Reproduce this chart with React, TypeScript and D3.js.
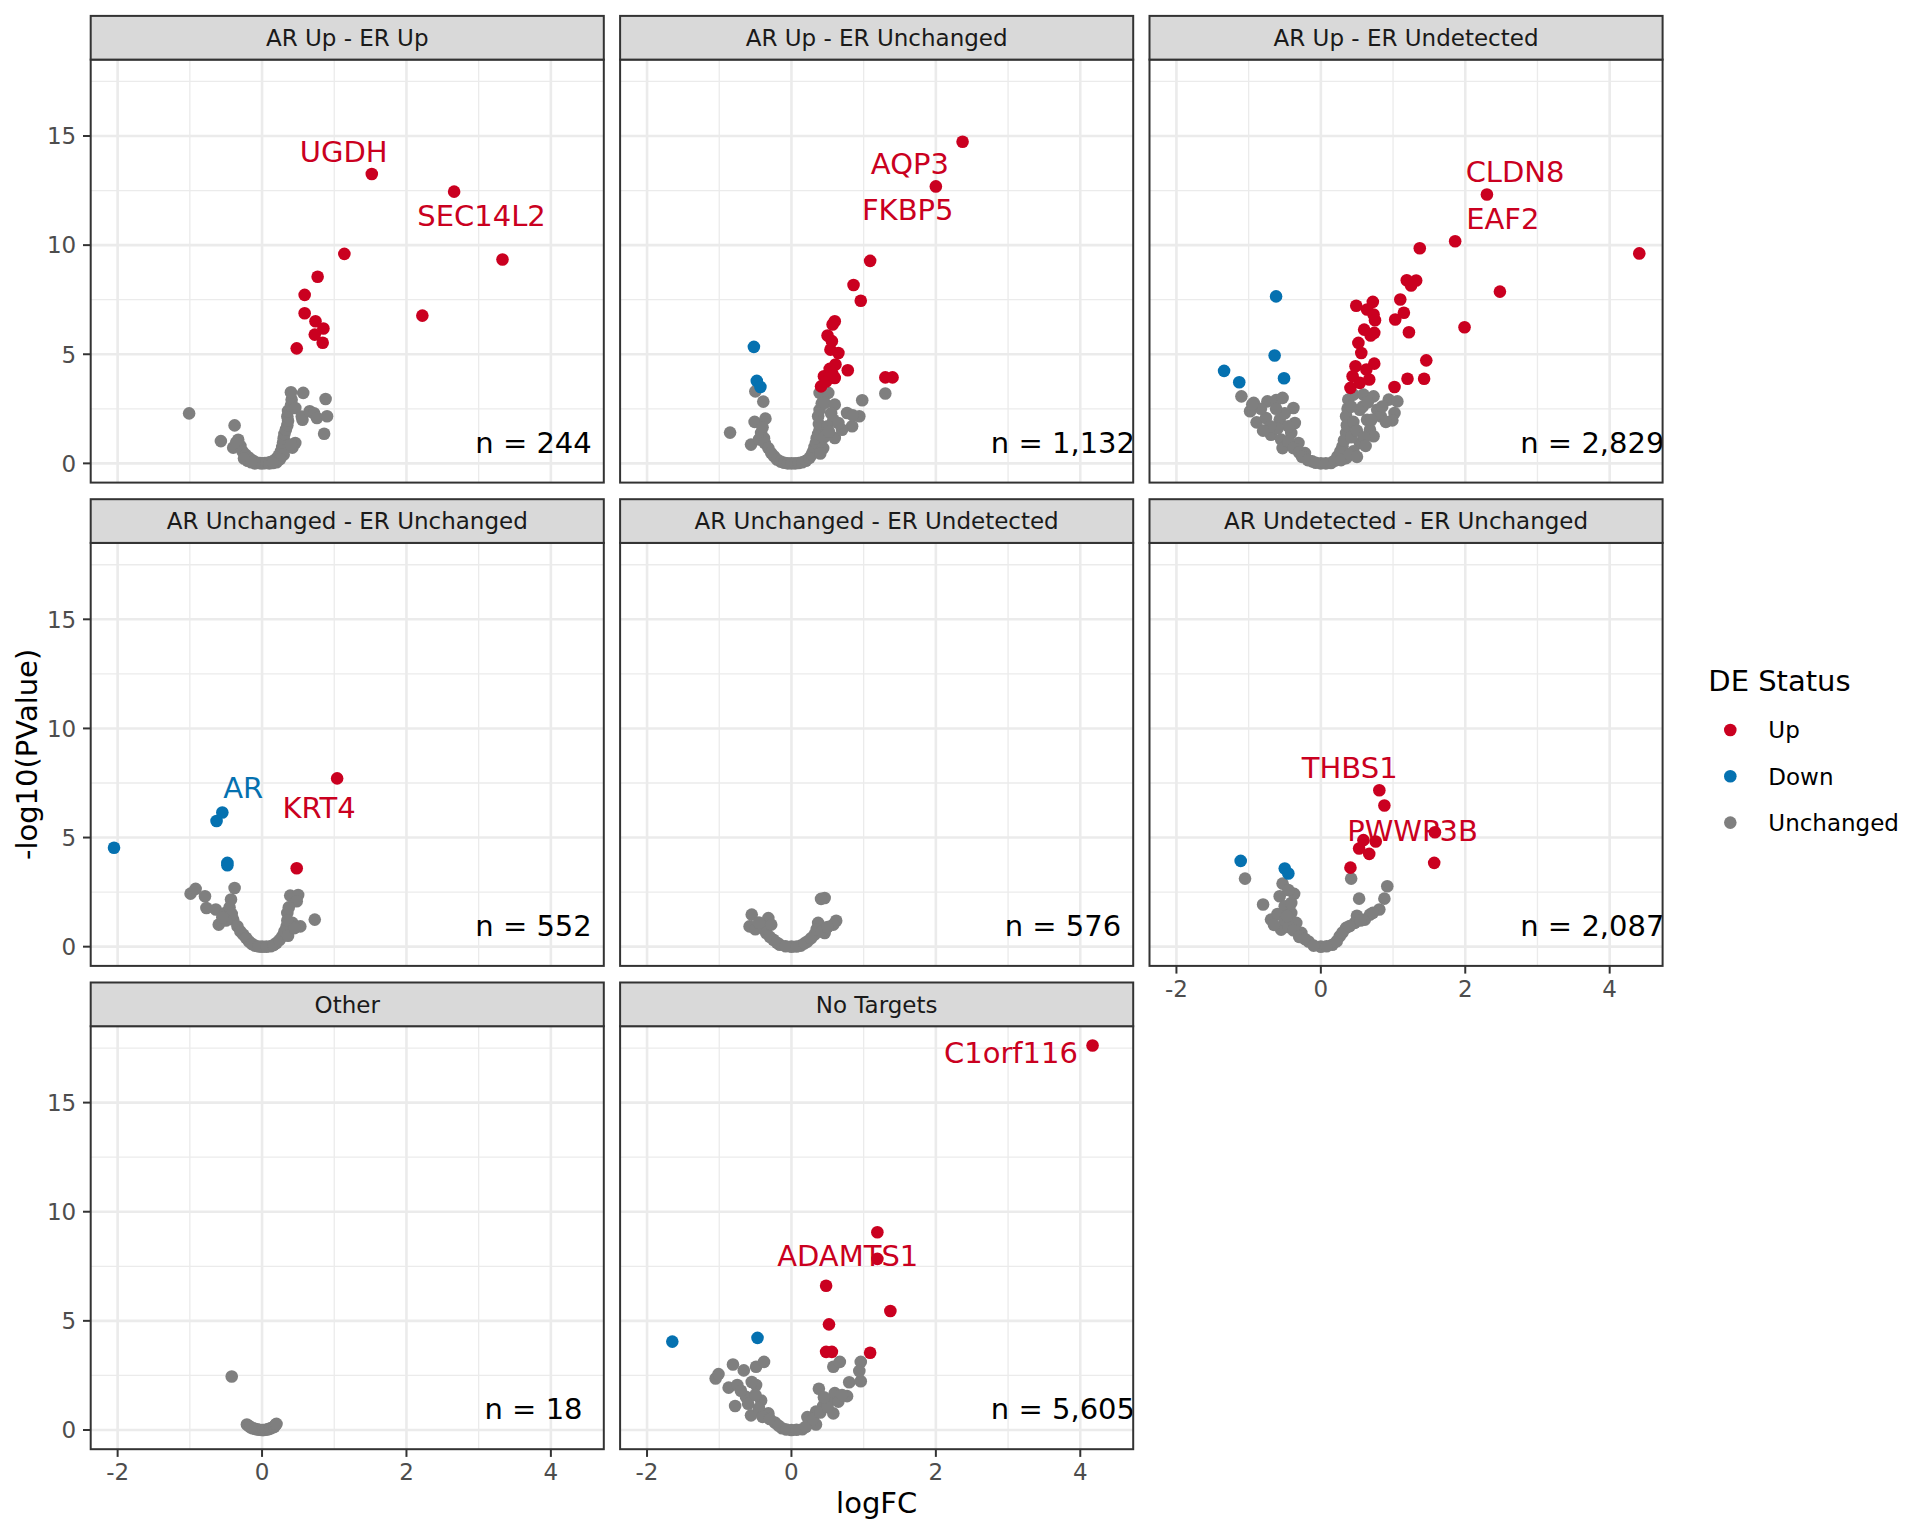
import React from "react";
import * as d3 from "d3";

type Pt = [number, number];
type Lab = [string, number, number, string];

// ---- facet metadata ----
const facetTitles = [
  "AR Up - ER Up",
  "AR Up - ER Unchanged",
  "AR Up - ER Undetected",
  "AR Unchanged - ER Unchanged",
  "AR Unchanged - ER Undetected",
  "AR Undetected - ER Unchanged",
  "Other",
  "No Targets",
];
const facetCounts = [244, 1132, 2829, 552, 576, 2087, 18, 5605];

const statusLevels = ["Up", "Down", "Unchanged"];
const statusColors = ["#CA0020", "#0571B0", "#7F7F7F"];
const xTicks = [-2, 0, 2, 4];
const yTicks = [0, 5, 10, 15];
const countLabelPos: Pt = [3.76, 0.96];

// ---- panel 1: AR Up - ER Up ----
const up1: Pt[] = [[1.52,13.26],[2.66,12.45],[1.14,9.6],[3.33,9.34],[0.77,8.55],[0.59,7.72],[0.59,6.88],[2.22,6.77],[0.74,6.51],[0.85,6.18],[0.73,5.9],[0.84,5.53],[0.48,5.27]];
const down1: Pt[] = [];
const unch1: Pt[] = [[-1.01,2.29],[-0.38,1.74],[-0.57,1.02],[-0.4,0.72],[-0.33,1.08],[-0.3,0.8],[-0.36,0.95],[-0.27,0.55],[-0.23,0.4],[-0.19,0.28],[-0.15,0.17],[-0.11,0.09],[-0.07,0.03],[-0.03,0.01],[0,0],[0.04,0.01],[0.08,0.03],[0.12,0.06],[0.16,0.12],[0.2,0.22],[0.23,0.35],[0.26,0.55],[0.28,0.75],[0.29,0.95],[0.3,1.15],[0.31,1.35],[0.33,1.55],[0.35,1.75],[0.36,1.95],[0.35,2.15],[0.36,2.4],[0.4,2.65],[0.41,2.92],[0.4,3.26],[0.46,2.54],[0.57,3.23],[0.56,2.0],[0.55,2.15],[0.66,2.39],[0.72,2.3],[0.76,2.08],[0.88,2.95],[0.9,2.16],[0.86,1.36],[0.46,0.93],[0.42,0.72],[0.4,0.85],[0.2,0.05],[-0.2,0.12],[0.1,0.0],[-0.1,0.0],[-0.25,0.22],[0.3,0.4],[0.25,0.2],[0.15,0.02],[-0.15,0.05]];
const labels1: Lab[] = [["UGDH",1.13,14.3,"Up"],["SEC14L2",3.04,11.37,"Up"]];

// ---- panel 2: AR Up - ER Unchanged ----
const up2: Pt[] = [[2.37,14.74],[2.0,12.69],[1.09,9.28],[0.86,8.17],[0.96,7.45],[0.6,6.51],[0.57,6.36],[0.5,5.86],[0.56,5.6],[0.54,5.21],[0.65,5.06],[0.61,4.53],[0.53,4.33],[0.78,4.27],[0.6,3.91],[0.45,3.99],[0.41,3.53],[1.3,3.94],[1.4,3.94],[0.56,4.14],[0.48,3.75],[0.58,4.0]];
const down2: Pt[] = [[-0.52,5.34],[-0.48,3.78],[-0.43,3.5]];
const unch2: Pt[] = [[-0.85,1.41],[-0.56,0.86],[-0.51,1.9],[-0.36,2.05],[-0.42,1.39],[-0.4,1.65],[-0.38,1.15],[-0.45,1.1],[-0.37,0.93],[-0.32,0.7],[-0.28,0.47],[-0.24,0.32],[-0.2,0.18],[-0.15,0.08],[-0.1,0.03],[-0.05,0.0],[0,0],[0.05,0.0],[0.1,0.02],[0.15,0.05],[0.2,0.12],[0.25,0.25],[0.28,0.4],[0.3,0.55],[0.32,0.75],[0.34,0.93],[0.35,1.15],[0.37,1.35],[0.39,1.54],[0.38,1.8],[0.37,2.16],[0.39,2.45],[0.42,2.75],[0.39,3.23],[0.51,3.23],[0.46,2.77],[0.6,2.69],[0.58,2.0],[0.55,2.3],[0.5,1.7],[0.45,1.2],[0.77,2.31],[0.94,2.16],[0.84,1.7],[0.98,2.89],[1.3,3.2],[0.6,1.16],[0.44,0.7],[0.7,1.54],[0.65,1.85],[0.85,2.2],[0.4,0.45],[-0.39,2.83],[-0.5,3.3],[0.52,1.45]];
const labels2: Lab[] = [["AQP3",1.64,13.74,"Up"],["FKBP5",1.61,11.65,"Up"]];

// ---- panel 3: AR Up - ER Undetected ----
const up3: Pt[] = [[2.3,12.32],[1.86,10.18],[1.37,9.86],[4.41,9.62],[1.19,8.39],[1.32,8.38],[1.25,8.15],[2.48,7.87],[1.1,7.51],[0.72,7.4],[0.49,7.22],[0.64,7.05],[0.73,6.82],[1.15,6.9],[1.03,6.59],[0.75,6.56],[1.99,6.24],[0.6,6.13],[0.74,5.98],[1.22,6.01],[0.69,5.86],[0.52,5.52],[0.56,5.06],[1.46,4.72],[0.74,4.57],[0.48,4.45],[0.63,4.3],[0.44,3.99],[1.2,3.88],[1.43,3.88],[0.67,3.84],[1.02,3.5],[0.41,3.46],[0.54,3.69]];
const down3: Pt[] = [[-0.62,7.65],[-0.64,4.94],[-1.34,4.24],[-1.13,3.72],[-0.51,3.9]];
const unch3: Pt[] = [[-1.1,3.07],[-0.93,2.77],[-0.74,2.84],[-0.62,2.9],[-0.53,3.0],[-0.38,2.54],[-0.89,1.88],[-0.76,2.08],[-0.98,2.39],[-0.57,2.0],[-0.36,1.85],[-0.69,1.31],[-0.55,1.09],[-0.41,1.39],[-0.31,0.93],[-0.22,0.47],[-0.12,0.09],[0,0],[0.14,0.02],[0.23,0.32],[0.3,0.78],[0.35,1.39],[0.35,2.16],[0.38,2.92],[0.45,3.15],[0.59,3.15],[0.73,3.07],[0.54,2.46],[0.64,2.0],[0.78,2.46],[0.94,2.92],[1.06,2.84],[1.02,2.31],[0.99,1.97],[0.83,2.16],[0.54,0.93],[0.45,0.55],[0.35,0.24],[0.68,1.54],[0.73,1.24],[-0.53,0.7],[-0.45,1.7],[-0.5,2.3],[-0.6,1.6],[-0.45,1.0],[-0.38,0.7],[-0.3,0.5],[-0.26,0.3],[-0.18,0.15],[-0.07,0.03],[0.07,0.0],[0.19,0.12],[0.27,0.55],[0.32,1.05],[0.36,1.75],[0.37,2.5],[0.42,2.6],[0.45,1.9],[0.42,1.2],[0.5,1.5],[0.6,1.2],[0.58,2.6],[0.7,2.0],[0.85,2.6],[0.62,0.8],[0.28,0.15],[0.4,0.4],[-0.62,2.5],[-0.83,2.5],[-0.7,1.7],[-0.8,1.5],[-0.95,2.7],[0.5,0.3],[0.9,1.9],[0.65,2.8]];
const labels3: Lab[] = [["CLDN8",2.69,13.36,"Up"],["EAF2",2.52,11.22,"Up"]];

// ---- panel 4: AR Unchanged - ER Unchanged ----
const up4: Pt[] = [[1.04,7.71],[0.48,3.59]];
const down4: Pt[] = [[-2.05,4.53],[-0.63,5.76],[-0.55,6.15],[-0.48,3.84],[-0.48,3.73]];
const unch4: Pt[] = [[-0.99,2.43],[-0.92,2.65],[-0.79,2.31],[-0.77,1.77],[-0.64,1.7],[-0.38,2.69],[-0.43,2.16],[-0.6,1.01],[-0.51,1.54],[-0.4,1.24],[-0.34,0.93],[-0.26,0.55],[-0.18,0.24],[-0.1,0.05],[0,0],[0.12,0.02],[0.2,0.17],[0.28,0.47],[0.34,0.93],[0.35,1.54],[0.39,2.34],[0.5,2.37],[0.48,2.08],[0.53,0.93],[0.73,1.24],[0.42,1.09],[-0.45,1.8],[-0.42,1.5],[-0.5,1.2],[-0.3,0.7],[-0.22,0.4],[-0.14,0.12],[-0.05,0.01],[0.06,0.0],[0.16,0.08],[0.24,0.3],[0.31,0.7],[0.35,1.2],[0.37,1.8],[0.36,0.5],[0.45,0.85],[-0.55,1.35]];
const labels4: Lab[] = [["AR",-0.26,7.28,"Down"],["KRT4",0.79,6.39,"Up"]];

// ---- panel 5: AR Unchanged - ER Undetected ----
const up5: Pt[] = [];
const down5: Pt[] = [];
const unch5: Pt[] = [[0.46,2.23],[0.41,2.19],[-0.55,1.47],[-0.32,1.31],[-0.58,0.93],[-0.42,0.93],[-0.35,0.63],[-0.25,0.32],[-0.16,0.09],[0,0],[0.13,0.05],[0.22,0.24],[0.32,0.55],[0.37,1.09],[0.46,0.63],[0.62,1.19],[0.58,1.01],[-0.28,1.01],[-0.5,0.8],[-0.3,0.45],[-0.2,0.18],[-0.08,0.02],[0.07,0.01],[0.18,0.15],[0.27,0.38],[0.35,0.8],[0.42,0.7],[-0.45,1.1],[0.5,0.9]];
const labels5: Lab[] = [];

// ---- panel 6: AR Undetected - ER Unchanged ----
const up6: Pt[] = [[0.81,7.17],[0.88,6.47],[1.58,5.24],[0.59,4.88],[0.76,4.82],[0.53,4.5],[0.67,4.25],[0.41,3.62],[1.57,3.84]];
const down6: Pt[] = [[-1.11,3.93],[-0.5,3.58],[-0.45,3.35]];
const unch6: Pt[] = [[-1.05,3.12],[-0.53,2.89],[-0.37,2.42],[-0.8,1.93],[-0.69,1.24],[-0.57,2.31],[-0.5,1.85],[-0.41,1.54],[-0.34,1.09],[-0.27,0.63],[-0.17,0.24],[0,0],[0.16,0.09],[0.26,0.47],[0.35,0.86],[0.47,1.09],[0.5,1.42],[0.53,2.2],[0.42,3.12],[0.68,1.47],[0.81,1.7],[0.88,2.2],[0.92,2.77],[-0.55,0.78],[-0.41,2.0],[0.61,1.24],[-0.6,1.5],[-0.5,1.2],[-0.45,2.6],[-0.45,0.9],[-0.38,0.75],[-0.3,0.45],[-0.22,0.35],[-0.1,0.05],[0.08,0.02],[0.22,0.25],[0.3,0.65],[0.4,0.95],[0.55,1.2],[0.72,1.55],[-0.65,1.0],[-0.47,1.4]];
const labels6: Lab[] = [["THBS1",0.4,8.2,"Up"],["PWWP3B",1.27,5.34,"Up"]];

// ---- panel 7: Other ----
const up7: Pt[] = [];
const down7: Pt[] = [];
const unch7: Pt[] = [[-0.42,2.45],[-0.21,0.25],[-0.18,0.18],[-0.13,0.08],[-0.1,0.05],[-0.07,0.03],[-0.04,0.01],[0,0],[0.02,0.0],[0.05,0.01],[0.08,0.03],[0.1,0.05],[0.12,0.08],[0.15,0.12],[0.17,0.15],[0.19,0.25],[0.2,0.28],[-0.16,0.12]];
const labels7: Lab[] = [];

// ---- panel 8: No Targets ----
const up8: Pt[] = [[4.17,17.62],[1.19,9.06],[1.19,7.84],[0.48,6.61],[1.37,5.45],[0.52,4.84],[0.48,3.58],[0.56,3.58],[1.09,3.54]];
const down8: Pt[] = [[-1.65,4.05],[-0.47,4.22]];
const unch8: Pt[] = [[-0.81,3.0],[-1.05,2.36],[-1.01,2.56],[-0.66,2.73],[-0.49,2.9],[-0.38,3.12],[-0.87,1.94],[-0.75,2.06],[-0.78,1.1],[-0.49,2.06],[-0.56,0.67],[-0.42,1.35],[-0.32,0.76],[-0.23,0.34],[-0.13,0.08],[0,0],[0.15,0.03],[0.27,0.34],[0.34,0.84],[0.38,1.89],[0.53,1.35],[0.6,1.69],[0.77,1.55],[0.8,2.19],[0.58,2.9],[0.67,3.12],[0.96,3.12],[0.94,2.7],[0.96,2.23],[0.58,0.76],[0.34,0.25],[0.22,0.59],[0.44,1.1],[-0.63,1.52],[-0.6,1.2],[-0.5,1.6],[-0.45,1.0],[-0.4,0.6],[-0.3,0.5],[-0.18,0.2],[-0.07,0.02],[0.07,0.01],[0.2,0.15],[0.3,0.5],[0.4,0.8],[0.5,1.05],[0.45,1.5],[0.65,1.3],[0.7,1.6],[-0.55,2.2],[-0.7,1.8]];
const labels8: Lab[] = [["C1orf116",3.04,17.31,"Up"],["ADAMTS1",0.78,7.98,"Up"]];

const upSets = [up1, up2, up3, up4, up5, up6, up7, up8];
const downSets = [down1, down2, down3, down4, down5, down6, down7, down8];
const unchSets = [unch1, unch2, unch3, unch4, unch5, unch6, unch7, unch8];
const labelSets = [labels1, labels2, labels3, labels4, labels5, labels6, labels7, labels8];

// ---- layout ----
const W = 1920;
const H = 1536;
const left = 90.7;
const top = 15.9;
const panelW = 513.1;
const panelH = 423;
const stripH = 43.7;
const gapX = 16.3;
const gapY = 16.6;
const nCols = 3;
const FONT = "DejaVu Sans";

function minorBreaks(majors: number[], dom: number[]) {
  const step = majors[1] - majors[0];
  const out: number[] = [];
  for (let v = majors[0] - step / 2; v <= majors[majors.length - 1] + step / 2 + 1e-9; v += step) {
    if (v >= dom[0] && v <= dom[1]) out.push(v);
  }
  return out;
}

export default function App() {
  const allPts = [...upSets.flat(), ...downSets.flat(), ...unchSets.flat()] as Pt[];
  const [xmin, xmax] = d3.extent(allPts, (d) => d[0]) as [number, number];
  const [ymin, ymax] = d3.extent(allPts, (d) => d[1]) as [number, number];
  const xp = (xmax - xmin) * 0.05;
  const yp = (ymax - ymin) * 0.05;
  const x = d3.scaleLinear().domain([xmin - xp, xmax + xp]).range([0, panelW]);
  const y = d3.scaleLinear().domain([ymin - yp, ymax + yp]).range([panelH, 0]);
  const xMinor = minorBreaks(xTicks, x.domain());
  const yMinor = minorBreaks(yTicks, y.domain());
  const color = d3.scaleOrdinal<string, string>().domain(statusLevels).range(statusColors);
  const fmt = d3.format(",");
  const nPanels = facetTitles.length;
  const nRows = Math.ceil(nPanels / nCols);

  const panels = facetTitles.map((title, i) => {
    const col = i % nCols;
    const row = Math.floor(i / nCols);
    const px = left + col * (panelW + gapX);
    const stripTop = top + row * (stripH + panelH + gapY);
    const py = stripTop + stripH;
    const hasBelow = i + nCols < nPanels;
    const showX = !hasBelow;
    const showY = col === 0;
    const groups: [string, Pt[]][] = [
      ["Unchanged", unchSets[i]],
      ["Down", downSets[i]],
      ["Up", upSets[i]],
    ];
    return (
      <g key={title} transform={`translate(${px},${py})`}>
        <rect x={0} y={0} width={panelW} height={panelH} fill="#FFFFFF" />
        {xMinor.map((v) => (
          <line key={"xm" + v} x1={x(v)} x2={x(v)} y1={0} y2={panelH} stroke="#EBEBEB" strokeWidth={1.3} />
        ))}
        {yMinor.map((v) => (
          <line key={"ym" + v} x1={0} x2={panelW} y1={y(v)} y2={y(v)} stroke="#EBEBEB" strokeWidth={1.3} />
        ))}
        {xTicks.map((v) => (
          <line key={"xM" + v} x1={x(v)} x2={x(v)} y1={0} y2={panelH} stroke="#EBEBEB" strokeWidth={2.6} />
        ))}
        {yTicks.map((v) => (
          <line key={"yM" + v} x1={0} x2={panelW} y1={y(v)} y2={y(v)} stroke="#EBEBEB" strokeWidth={2.6} />
        ))}
        {groups.map(([st, pts]) =>
          pts.map((d, k) => (
            <circle key={st + k} cx={x(d[0])} cy={y(d[1])} r={6.3} fill={color(st)} />
          ))
        )}
        {labelSets[i].map(([txt, lx, ly, st]) => (
          <text key={txt} x={x(lx)} y={y(ly)} dy="0.36em" textAnchor="middle" fontSize={29} fill={color(st)} fontFamily={FONT}>
            {txt}
          </text>
        ))}
        <text x={x(countLabelPos[0])} y={y(countLabelPos[1])} dy="0.36em" textAnchor="middle" fontSize={29} fill="#000000" fontFamily={FONT}>
          {`n = ${fmt(facetCounts[i])}`}
        </text>
        <rect x={0} y={0} width={panelW} height={panelH} fill="none" stroke="#333333" strokeWidth={2} />
        <rect x={0} y={-stripH} width={panelW} height={stripH} fill="#D9D9D9" stroke="#333333" strokeWidth={2} />
        <text x={panelW / 2} y={-stripH / 2} dy="0.36em" textAnchor="middle" fontSize={23} fill="#1A1A1A" fontFamily={FONT}>
          {title}
        </text>
        {showX &&
          xTicks.map((v) => (
            <g key={"xt" + v}>
              <line x1={x(v)} x2={x(v)} y1={panelH} y2={panelH + 7.7} stroke="#333333" strokeWidth={2} />
              <text x={x(v)} y={panelH + 31} textAnchor="middle" fontSize={23} fill="#4D4D4D" fontFamily={FONT}>
                {v < 0 ? "-" + Math.abs(v) : String(v)}
              </text>
            </g>
          ))}
        {showY &&
          yTicks.map((v) => (
            <g key={"yt" + v}>
              <line x1={-7.7} x2={0} y1={y(v)} y2={y(v)} stroke="#333333" strokeWidth={2} />
              <text x={-14.5} y={y(v)} dy="0.36em" textAnchor="end" fontSize={23} fill="#4D4D4D" fontFamily={FONT}>
                {String(v)}
              </text>
            </g>
          ))}
      </g>
    );
  });

  const gridRight = left + nCols * panelW + (nCols - 1) * gapX;
  const gridBottom = top + nRows * (stripH + panelH) + (nRows - 1) * gapY;
  const panelsTop = top + stripH;

  const legX = 1708.3;
  const legTitleY = 690.7;
  const legKeyY0 = 730;
  const legStep = 46.3;

  return (
    <svg width={W} height={H} style={{ position: "absolute", left: 0, top: 0 }} fontFamily={FONT}>
      <rect x={0} y={0} width={W} height={H} fill="#FFFFFF" />
      {panels}
      <text x={(left + gridRight) / 2} y={1513} textAnchor="middle" fontSize={29} fill="#000000" fontFamily={FONT}>
        logFC
      </text>
      <text
        transform={`translate(37,${(panelsTop + gridBottom) / 2}) rotate(-90)`}
        textAnchor="middle"
        fontSize={29}
        fill="#000000"
        fontFamily={FONT}
      >
        -log10(PValue)
      </text>
      <text x={legX} y={legTitleY} fontSize={29} fill="#000000" fontFamily={FONT}>
        DE Status
      </text>
      {statusLevels.map((s, k) => (
        <g key={s}>
          <circle cx={legX + 22} cy={legKeyY0 + k * legStep} r={6.3} fill={color(s)} />
          <text x={legX + 60} y={legKeyY0 + k * legStep} dy="0.36em" fontSize={23} fill="#000000" fontFamily={FONT}>
            {s}
          </text>
        </g>
      ))}
    </svg>
  );
}
